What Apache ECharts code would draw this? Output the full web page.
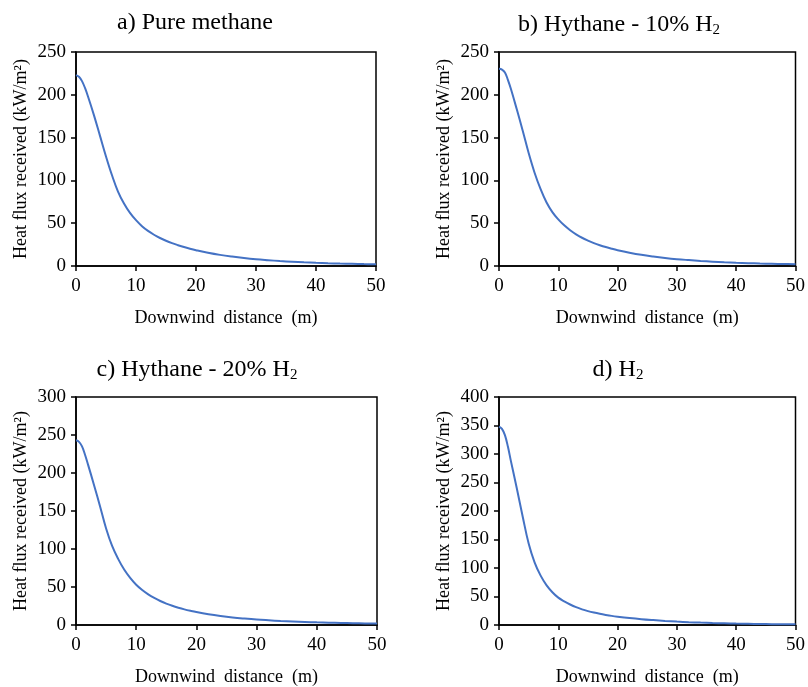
<!DOCTYPE html>
<html>
<head>
<meta charset="utf-8">
<script src="https://cdn.jsdelivr.net/npm/echarts@6/dist/echarts.min.js"></script>
<style>
  html, body { margin: 0; padding: 0; background: #fff; }
  #chart { width: 808px; height: 687px; }
</style>
</head>
<body>
<div id="chart"></div>
<script>
// downwind distance (m)
let distance = [0, 0.5, 1, 1.5, 2, 3, 4, 5, 6, 7, 8, 9, 10, 11, 12, 13, 14, 15, 16, 17, 18, 19, 20,
    22, 24, 26, 28, 30, 32, 34, 36, 38, 40, 42, 44, 46, 48, 50];

// heat flux received (kW/m2)
let fluxMethane = [223, 221, 216, 208, 198, 176, 152, 128, 106, 87, 73, 62, 53.5, 46.5, 41, 36.5, 32.7, 29.5, 26.7, 24.3, 22.1, 20.2, 18.5,
    15.5, 13, 11, 9.3, 7.9, 6.8, 5.8, 5, 4.3, 3.7, 3.2, 2.8, 2.5, 2.2, 2];
let fluxHythane10 = [230.5, 229.5, 226, 217.5, 207, 183, 158, 132, 109, 90, 74.5, 63, 54.5, 47.5, 41.8, 37, 33, 29.7, 26.8, 24.3, 22.1, 20.2, 18.5,
    15.6, 13.1, 11.1, 9.4, 8, 6.9, 5.9, 5.1, 4.4, 3.8, 3.3, 2.9, 2.6, 2.3, 2.1];
let fluxHythane20 = [243, 241, 235, 224, 211, 184, 156, 127, 104, 87, 73, 62, 53, 46, 40.3, 35.6, 31.6, 28.2, 25.3, 22.8, 20.6, 18.7, 17,
    14.2, 11.9, 10, 8.5, 7.2, 6.2, 5.3, 4.6, 4, 3.5, 3.1, 2.7, 2.4, 2.1, 1.9];
let fluxH2 = [348, 344, 333, 313, 288, 240, 190, 143, 110, 87, 70, 57.5, 48, 41.5, 36, 31.3, 27.5, 24.4, 21.8, 19.6, 17.7, 16, 14.6,
    12.2, 10.2, 8.6, 7.2, 6, 5, 4.2, 3.5, 3, 2.5, 2.1, 1.8, 1.5, 1.3, 1.1];

let titles = ['a) Pure methane', 'b) Hythane - 10% H{sub|2}', 'c) Hythane - 20% H{sub|2}', 'd) H{sub|2}'];
let yMax = [250, 250, 300, 400];
let allFlux = [fluxMethane, fluxHythane10, fluxHythane20, fluxH2];

let font = '"Liberation Serif", "Times New Roman", serif';

let grids = [
    { left: 76, top: 52, width: 300, height: 214 },
    { left: 499, top: 52, width: 301, height: 214 },
    { left: 76, top: 397, width: 301, height: 229 },
    { left: 499, top: 397, width: 301, height: 229 }
];
let titlePos = [
    { left: 190, top: 6 },
    { left: 614, top: 6 },
    { left: 192, top: 351 },
    { left: 613, top: 351 }
];

let option = {
    backgroundColor: '#fff',
    animation: false,
    title: [],
    grid: [],
    xAxis: [],
    yAxis: [],
    series: []
};

for (let i = 0; i < 4; i++) {
    option.title.push({
        text: titles[i],
        left: titlePos[i].left,
        top: titlePos[i].top,
        textAlign: 'center',
        textStyle: {
            fontFamily: font,
            fontSize: 24,
            fontWeight: 'normal',
            color: '#000',
            rich: {
                sub: { fontFamily: font, fontSize: 15, color: '#000', verticalAlign: 'bottom', padding: [12, 0, 0, 0] }
            }
        }
    });
    option.grid.push(Object.assign({
        show: true,
        borderColor: '#000',
        borderWidth: 1.5,
        containLabel: false
    }, grids[i]));
    option.xAxis.push({
        type: 'value',
        gridIndex: i,
        min: 0,
        max: 50,
        interval: 10,
        name: 'Downwind  distance  (m)',
        nameLocation: 'middle',
        nameGap: 43,
        nameTextStyle: { fontFamily: font, fontSize: 18, color: '#000' },
        axisLine: { show: true, lineStyle: { color: '#000', width: 1.5 } },
        axisTick: { show: true, length: 5, lineStyle: { color: '#000', width: 1.5 } },
        axisLabel: { fontFamily: font, fontSize: 19, color: '#000', margin: 11 },
        splitLine: { show: false }
    });
    option.yAxis.push({
        type: 'value',
        gridIndex: i,
        min: 0,
        max: yMax[i],
        interval: 50,
        name: 'Heat flux received (kW/m²)',
        nameLocation: 'middle',
        nameGap: 46,
        nameTextStyle: { fontFamily: font, fontSize: 18, color: '#000' },
        axisLine: { show: true, lineStyle: { color: '#000', width: 1.5 } },
        axisTick: { show: true, length: 5, lineStyle: { color: '#000', width: 1.5 } },
        axisLabel: { fontFamily: font, fontSize: 19, color: '#000', margin: 10 },
        splitLine: { show: false }
    });
    option.series.push({
        type: 'line',
        xAxisIndex: i,
        yAxisIndex: i,
        data: distance.map((d, k) => [d, allFlux[i][k]]),
        smooth: 0.4,
        symbol: 'none',
        lineStyle: { color: '#4472C4', width: 2 }
    });
}

let chart = echarts.init(document.getElementById('chart'));
chart.setOption(option);
</script>
</body>
</html>
